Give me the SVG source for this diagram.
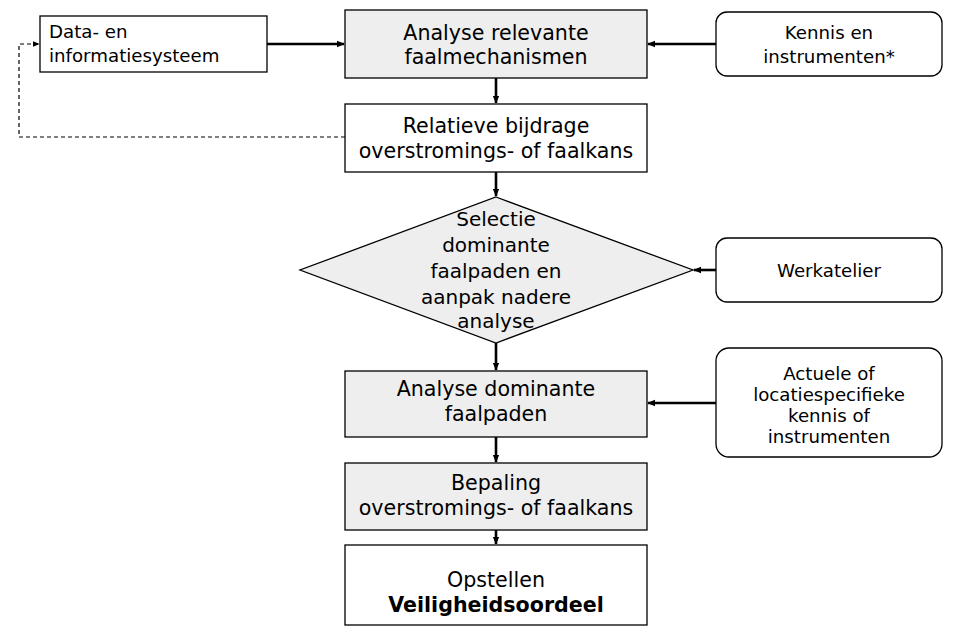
<svg xmlns="http://www.w3.org/2000/svg" width="963" height="635" viewBox="0 0 963 635">
<defs>
<style>
.b{stroke:#000;stroke-width:1.3}
.g{fill:#eeeeee}
.w{fill:#fff}
text{font-family:"DejaVu Sans",Verdana,sans-serif;fill:#000}
.m{font-size:20.6px;text-anchor:middle}
.dm{font-size:20px;text-anchor:middle}
.s{font-size:18.2px;text-anchor:middle}
.c{stroke:#000;stroke-width:2.6;fill:none}
.d{stroke:#000;stroke-width:1.2;fill:none;stroke-dasharray:4 3}
</style>
<marker id="ah" viewBox="0 0 10 10" refX="9" refY="5" markerWidth="3.2" markerHeight="3.2" orient="auto" markerUnits="strokeWidth"><path d="M0,1 L10,5 L0,9 Z" fill="#000"/></marker>
<marker id="ahd" viewBox="0 0 10 10" refX="9" refY="5" markerWidth="6" markerHeight="6" orient="auto" markerUnits="strokeWidth"><path d="M0,1 L10,5 L0,9 Z" fill="#000"/></marker>
</defs>
<rect width="963" height="635" fill="#fff"/>
<g id="connectors">
<line class="c" x1="267" y1="44" x2="344" y2="44" marker-end="url(#ah)"/>
<line class="c" x1="716" y1="44" x2="648" y2="44" marker-end="url(#ah)"/>
<line class="c" x1="496" y1="78" x2="496" y2="103" marker-end="url(#ah)"/>
<line class="c" x1="496" y1="172" x2="496" y2="196" marker-end="url(#ah)"/>
<line class="c" x1="716" y1="270" x2="694" y2="270" marker-end="url(#ah)"/>
<line class="c" x1="496" y1="343" x2="496" y2="370" marker-end="url(#ah)"/>
<line class="c" x1="716" y1="403" x2="648" y2="403" marker-end="url(#ah)"/>
<line class="c" x1="496" y1="437" x2="496" y2="462" marker-end="url(#ah)"/>
<line class="c" x1="496" y1="530" x2="496" y2="544" marker-end="url(#ah)"/>
<polyline class="d" points="345,137 19,137 19,44 39,44" marker-end="url(#ahd)"/>
</g>
<g id="data">
<rect class="b w" x="40" y="16" width="227" height="56"/>
<text x="49" y="38" font-size="18.2">Data- en</text>
<text x="49" y="62" font-size="18.2">informatiesysteem</text>
</g>
<g id="analyse-relevante">
<rect class="b g" x="345" y="10" width="302" height="68"/>
<text class="m" x="496" y="40">Analyse relevante</text>
<text class="m" x="496" y="64">faalmechanismen</text>
</g>
<g id="kennis">
<rect class="b w" x="716" y="12" width="226" height="64" rx="11"/>
<text class="s" x="829" y="39">Kennis en</text>
<text class="s" x="829" y="63">instrumenten*</text>
</g>
<g id="relatieve">
<rect class="b w" x="345" y="104" width="302" height="68"/>
<text class="m" x="496" y="133">Relatieve bijdrage</text>
<text class="m" x="496" y="158">overstromings- of faalkans</text>
</g>
<g id="selectie">
<polygon class="b g" points="496,197 693,270 496,343 300,270"/>
<text class="dm" x="496" y="226">Selectie</text>
<text class="dm" x="496" y="252">dominante</text>
<text class="dm" x="496" y="278">faalpaden en</text>
<text class="dm" x="496" y="304">aanpak nadere</text>
<text class="dm" x="496" y="328">analyse</text>
</g>
<g id="werkatelier">
<rect class="b w" x="716" y="238" width="226" height="64" rx="11"/>
<text class="s" x="829" y="277">Werkatelier</text>
</g>
<g id="analyse-dominante">
<rect class="b g" x="345" y="371" width="302" height="66"/>
<text class="m" x="496" y="396">Analyse dominante</text>
<text class="m" x="496" y="421">faalpaden</text>
</g>
<g id="actuele">
<rect class="b w" x="716" y="348" width="226" height="109" rx="13"/>
<text class="s" x="829" y="380">Actuele of</text>
<text class="s" x="829" y="401">locatiespecifieke</text>
<text class="s" x="829" y="422">kennis of</text>
<text class="s" x="829" y="443">instrumenten</text>
</g>
<g id="bepaling">
<rect class="b g" x="345" y="463" width="302" height="67"/>
<text class="m" x="496" y="490">Bepaling</text>
<text class="m" x="496" y="515">overstromings- of faalkans</text>
</g>
<g id="opstellen">
<rect class="b w" x="345" y="545" width="302" height="80"/>
<text class="m" x="496" y="587">Opstellen</text>
<text class="m" x="496" y="612" font-weight="bold">Veiligheidsoordeel</text>
</g>
</svg>
